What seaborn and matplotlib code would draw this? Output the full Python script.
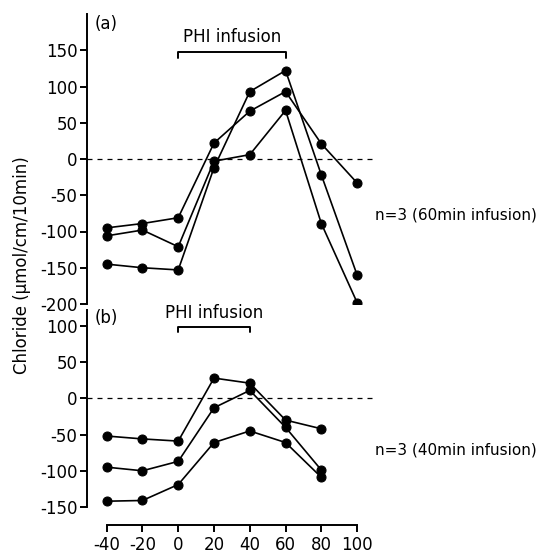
import numpy as np
import pandas as pd
import matplotlib
matplotlib.use("Agg")
import matplotlib.pyplot as plt
import seaborn as sns

sns.set_theme(style="ticks")
plt.rcParams['font.family'] = ['DejaVu Sans']
plt.rcParams.update({
    "text.color": "black",
    "axes.labelcolor": "black",
    "axes.edgecolor": "black",
    "xtick.color": "black",
    "ytick.color": "black",
})

# ---- data ----
time_a = [-40, -20, 0, 20, 40, 60, 80, 100]
a_series1 = [-95, -89, -81, 22, 66, 93, 21, -33]
a_series2 = [-106, -98, -121, -3, 6, 67, -89, -198]
a_series3 = [-145, -150, -153, -12, 93, 122, -22, -160]

time_b = [-40, -20, 0, 20, 40, 60, 80]
b_series1 = [-52, -56, -59, 28, 21, -30, -42]
b_series2 = [-95, -100, -87, -13, 11, -40, -99]
b_series3 = [-142, -141, -119, -61, -45, -61, -109]

yticks_a = [-200, -150, -100, -50, 0, 50, 100, 150]
yticks_b = [-150, -100, -50, 0, 50, 100]
xticks = [-40, -20, 0, 20, 40, 60, 80, 100]

def long_df(t, series):
    rows = []
    for i, s in enumerate(series):
        for x, y in zip(t, s):
            rows.append({"time": x, "chloride": y, "unit": i})
    return pd.DataFrame(rows)

df_a = long_df(time_a, [a_series1, a_series2, a_series3])
df_b = long_df(time_b, [b_series1, b_series2, b_series3])

W, H = 539, 553
fig = plt.figure(figsize=(W / 100, H / 100), dpi=100)

left = 87 / W
width = (375 - 87) / W
ax_a = fig.add_axes([left, 1 - 304 / H, width, (304 - 14) / H])
ax_b = fig.add_axes([left, 1 - 507 / H, width, (507 - 310) / H])

FS = 12
lw = 1.2
for ax, df in [(ax_a, df_a), (ax_b, df_b)]:
    sns.lineplot(data=df, x="time", y="chloride", units="unit", estimator=None,
                 color="black", marker="o", markersize=6.5, markeredgecolor="black",
                 linewidth=lw, ax=ax, legend=False)
    ax.axhline(0, color="black", linestyle=(0, (4, 4)), linewidth=0.9, zorder=0)
    ax.set_xlim(-51, 110)
    ax.set_xlabel("")
    ax.set_ylabel("")
    ax.spines["right"].set_visible(False)
    ax.spines["top"].set_visible(False)
    ax.spines["left"].set_linewidth(1.4)
    ax.tick_params(axis="y", direction="out", length=5, width=1.4, labelsize=FS, pad=2)
    ax.set_facecolor("white")

ax_a.set_ylim(-200, 200)
ax_a.set_yticks(yticks_a)
ax_a.set_yticklabels([str(v) for v in yticks_a])
ax_a.spines["bottom"].set_visible(False)
ax_a.tick_params(axis="x", bottom=False, labelbottom=False)

ax_b.set_ylim(-150, 122)
ax_b.set_yticks(yticks_b)
ax_b.set_yticklabels([str(v) for v in yticks_b])
ax_b.spines["bottom"].set_position(("outward", 13))
ax_b.spines["bottom"].set_bounds(-40, 100)
ax_b.spines["bottom"].set_linewidth(1.4)
ax_b.set_xticks(xticks)
ax_b.set_xticklabels([str(v) for v in xticks])
ax_b.tick_params(axis="x", direction="out", length=5, width=1.4, labelsize=FS, pad=3)

# PHI infusion brackets
def bracket(ax, x0, x1, y, drop, ty):
    ax.plot([x0, x0, x1, x1], [y - drop, y, y, y - drop], color="black",
            linewidth=1.4, clip_on=False)
    ax.text((x0 + x1) / 2, ty, "PHI infusion", ha="center", va="center",
            fontsize=FS, clip_on=False)

bracket(ax_a, 0, 60, 148, 8, 168)
bracket(ax_b, 0, 40, 99, 8, 118)

ax_a.text(-47, 186, "(a)", fontsize=FS, ha="left", va="center")
ax_b.text(-47, 111, "(b)", fontsize=FS, ha="left", va="center")

fig.text(375 / W, 1 - 215 / H, "n=3 (60min infusion)", fontsize=11, ha="left", va="center")
fig.text(375 / W, 1 - 450 / H, "n=3 (40min infusion)", fontsize=11, ha="left", va="center")
fig.text(22 / W, 1 - 265 / H, "Chloride (\u03bcmol/cm/10min)", fontsize=FS,
         rotation=90, ha="center", va="center")

fig.savefig("out.png", dpi=100, facecolor="white")
